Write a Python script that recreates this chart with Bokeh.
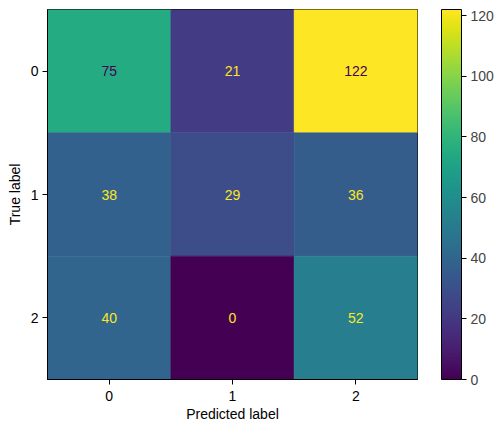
from bokeh.plotting import figure
from bokeh.models import (ColumnDataSource, LinearColorMapper, ColorBar, FixedTicker, Range1d)
from bokeh.palettes import Viridis256
from bokeh.transform import transform
from bokeh.core.properties import value
from bokeh.embed import file_html
from bokeh.resources import INLINE

labels = ["0", "1", "2"]
true_idx = [0, 0, 0, 1, 1, 1, 2, 2, 2]
pred_idx = [0, 1, 2, 0, 1, 2, 0, 1, 2]
counts = [75, 21, 122, 38, 29, 36, 40, 0, 52]
cbar_ticks = [0, 20, 40, 60, 80, 100, 120]

FONT = "Liberation Sans"
vmin, vmax = min(counts), max(counts)
thresh = (vmin + vmax) / 2.0
txt_colors = ["#fde725" if c < thresh else "#440154" for c in counts]

src = ColumnDataSource(dict(x=pred_idx, y=true_idx, v=counts,
                            t=[str(c) for c in counts], tc=txt_colors))
mapper = LinearColorMapper(palette=Viridis256, low=vmin, high=vmax)

p = figure(frame_width=370, frame_height=370,
           x_range=Range1d(-0.5, 2.5), y_range=Range1d(2.5, -0.5),
           output_backend="svg", toolbar_location=None,
           min_border_left=47, min_border_top=9, min_border_right=10, min_border_bottom=8)
p.rect(x="x", y="y", width=1, height=1, source=src,
       fill_color=transform("v", mapper), line_color=transform("v", mapper), line_width=0.6)
p.text(x="x", y="y", text="t", text_color="tc", source=src,
       text_align="center", text_baseline="middle",
       text_font=value(FONT), text_font_size="14px")

p.grid.visible = False
p.outline_line_color = "black"
p.outline_line_width = 1
for ax in (p.xaxis[0], p.yaxis[0]):
    ax.ticker = FixedTicker(ticks=[0, 1, 2])
    ax.major_label_overrides = {i: l for i, l in enumerate(labels)}
    ax.minor_tick_line_color = None
    ax.major_tick_in = 0
    ax.major_tick_out = 5
    ax.major_tick_line_color = "black"
    ax.axis_line_color = "black"
    ax.major_label_text_font = FONT
    ax.major_label_text_font_size = "14px"
    ax.major_label_text_color = "black"
    ax.axis_label_text_font = FONT
    ax.axis_label_text_font_size = "14px"
    ax.axis_label_text_font_style = "normal"
    ax.axis_label_text_color = "black"
p.xaxis.axis_label = "Predicted label"
p.yaxis.axis_label = "True label"
p.yaxis.major_label_orientation = "horizontal"
p.xaxis.major_label_standoff = 6
p.yaxis.major_label_standoff = 4
p.xaxis.axis_label_standoff = 2
p.yaxis.axis_label_standoff = 5

cb = ColorBar(color_mapper=mapper, ticker=FixedTicker(ticks=cbar_ticks),
              width=20, height=370, margin=0, padding=0,
              major_tick_in=0, major_tick_out=5, major_tick_line_color="black",
              minor_tick_line_color=None,
              bar_line_color="black", border_line_color=None,
              major_label_text_font=FONT, major_label_text_font_size="14px",
              label_standoff=4, location=(24, 0))
p.add_layout(cb, "right")

open("out.html", "w").write(file_html(p, INLINE))
